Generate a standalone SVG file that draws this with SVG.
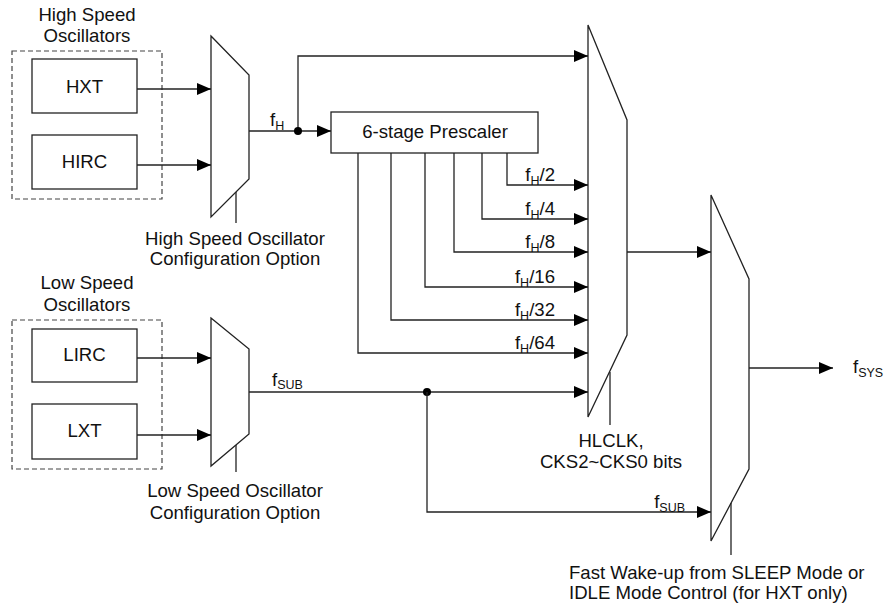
<svg xmlns="http://www.w3.org/2000/svg" width="884" height="608" viewBox="0 0 884 608">
<defs>
<marker id="arr" markerUnits="userSpaceOnUse" markerWidth="14" markerHeight="12" refX="14" refY="6" orient="auto">
<path d="M0,0 L14,6 L0,12 Z" fill="#000"/>
</marker>
<style>
text{font-family:"Liberation Sans",Arial,sans-serif;font-size:18.6px;fill:#111}
.sub{font-size:12.5px}
.box{fill:#fff;stroke:#222;stroke-width:1.3}
.dash{fill:none;stroke:#444;stroke-width:1.2;stroke-dasharray:5,3}
.mux{fill:#fff;stroke:#222;stroke-width:1.3}
.w{fill:none;stroke:#222;stroke-width:1.3}
.a{fill:none;stroke:#222;stroke-width:1.3;marker-end:url(#arr)}
.c{text-anchor:middle}
.e{text-anchor:end}
</style>
</defs>

<g id="hs-group">
<rect class="dash" x="12" y="51" width="150" height="148"/>
<text class="c" x="87" y="20.5">High Speed</text>
<text class="c" x="87" y="41.5">Oscillators</text>
</g>
<g id="hxt"><rect class="box" x="32" y="59" width="105" height="54"/><text class="c" x="84.5" y="93">HXT</text></g>
<g id="hirc"><rect class="box" x="32" y="135" width="105" height="54"/><text class="c" x="84.5" y="168">HIRC</text></g>

<g id="ls-group">
<rect class="dash" x="12" y="320" width="150" height="149"/>
<text class="c" x="87" y="289">Low Speed</text>
<text class="c" x="87" y="311">Oscillators</text>
</g>
<g id="lirc"><rect class="box" x="32" y="329" width="105" height="53"/><text class="c" x="84.5" y="361">LIRC</text></g>
<g id="lxt"><rect class="box" x="32" y="404" width="105" height="55"/><text class="c" x="84.5" y="437">LXT</text></g>

<g id="mux-hs">
<polygon class="mux" points="211,36 249,75 249,179 211,217"/>
<text class="c" x="235" y="245">High Speed Oscillator</text>
<text class="c" x="235" y="265">Configuration Option</text>
</g>
<g id="mux-ls">
<polygon class="mux" points="211,318 249,349 249,434 211,466"/>
<text class="c" x="235" y="497">Low Speed Oscillator</text>
<text class="c" x="235" y="518.5">Configuration Option</text>
</g>
<g id="prescaler">
<rect class="box" x="331" y="112" width="207" height="41"/>
<text class="c" x="435" y="138">6-stage Prescaler</text>
</g>
<g id="mux-hl">
<polygon class="mux" points="588,25 627,120 627,335 588,417"/>
<text class="c" x="611" y="446.5">HLCLK,</text>
<text class="c" x="611" y="468">CKS2~CKS0 bits</text>
</g>
<g id="mux-sys">
<polygon class="mux" points="711,195 749,279 749,469 711,541"/>
<text x="569" y="579">Fast Wake-up from SLEEP Mode or</text>
<text x="569" y="599">IDLE Mode Control (for HXT only)</text>
</g>
<g id="fsys-out">
<text x="853" y="373">f<tspan class="sub" dy="4">SYS</tspan></text>
</g>

<g id="connectors">
<line class="a" x1="137" y1="89" x2="211" y2="89"/>
<line class="a" x1="137" y1="165" x2="211" y2="165"/>
<line class="a" x1="137" y1="358" x2="211" y2="358"/>
<line class="a" x1="137" y1="435" x2="211" y2="435"/>
<line class="w" x1="236" y1="192" x2="236" y2="223"/>
<line class="w" x1="236" y1="445" x2="236" y2="472"/>
<line class="w" x1="610" y1="372" x2="610" y2="425"/>
<line class="w" x1="731" y1="503" x2="731" y2="555"/>
<line class="w" x1="249" y1="131" x2="298" y2="131"/>
<line class="a" x1="298" y1="131" x2="331" y2="131"/>
<path class="a" d="M298,131 V56 H588"/>
<circle cx="298" cy="131" r="4" fill="#000"/>
<text x="270" y="126">f<tspan class="sub" dy="4">H</tspan></text>
<path class="a" d="M507,153 V185 H588"/>
<path class="a" d="M482,153 V219 H588"/>
<path class="a" d="M454,153 V252 H588"/>
<path class="a" d="M425,153 V287 H588"/>
<path class="a" d="M391,153 V320 H588"/>
<path class="a" d="M358,153 V353 H588"/>
<text class="e" x="555" y="181">f<tspan class="sub" dy="4">H</tspan><tspan dy="-4">/2</tspan></text>
<text class="e" x="555" y="215">f<tspan class="sub" dy="4">H</tspan><tspan dy="-4">/4</tspan></text>
<text class="e" x="555" y="248">f<tspan class="sub" dy="4">H</tspan><tspan dy="-4">/8</tspan></text>
<text class="e" x="555" y="283">f<tspan class="sub" dy="4">H</tspan><tspan dy="-4">/16</tspan></text>
<text class="e" x="555" y="316">f<tspan class="sub" dy="4">H</tspan><tspan dy="-4">/32</tspan></text>
<text class="e" x="555" y="349">f<tspan class="sub" dy="4">H</tspan><tspan dy="-4">/64</tspan></text>
<line class="a" x1="249" y1="392" x2="588" y2="392"/>
<circle cx="427" cy="392" r="4" fill="#000"/>
<text x="272" y="386">f<tspan class="sub" dy="3">SUB</tspan></text>
<path class="a" d="M427,392 V512 H711"/>
<text class="e" x="685" y="508">f<tspan class="sub" dy="4">SUB</tspan></text>
<line class="a" x1="627" y1="252" x2="711" y2="252"/>
<line class="a" x1="749" y1="368" x2="833" y2="368"/>
</g>
</svg>
